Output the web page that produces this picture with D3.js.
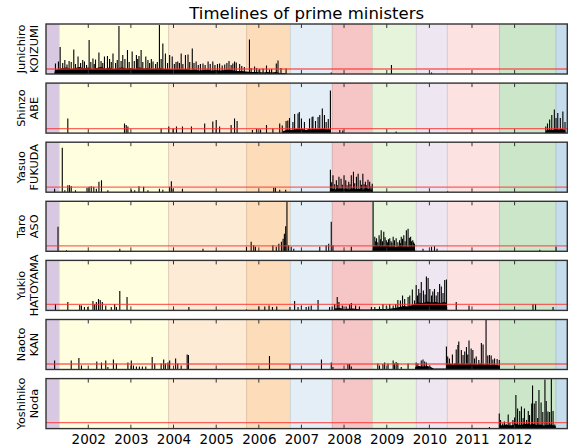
<!DOCTYPE html>
<html><head><meta charset="utf-8">
<script src="https://cdn.jsdelivr.net/npm/d3@7"></script>
<style>
html,body{margin:0;padding:0;background:#fff;}
svg{display:block;font-family:"DejaVu Sans",sans-serif;}
</style></head>
<body><svg id="chart" width="569" height="446"></svg>
<script>
// ---------------- DATA ----------------
const chartTitle = "Timelines of prime ministers";
const firstNames = ["Junichiro","Shinzo","Yasuo","Taro","Yukio","Naoto","Yoshihiko"];
const lastNames  = ["KOIZUMI","ABE","FUKUDA","ASO","HATOYAMA","KAN","Noda"];
const tickYears = [2002,2003,2004,2005,2006,2007,2008,2009,2010,2011,2012];
const timeStart = 2001.008, timeEnd = 2013.234;
const periodNames  = ["Mori","Koizumi I","Koizumi II","Koizumi III","Abe","Fukuda","Aso","Hatoyama","Kan","Noda","Abe II"];
const periodStarts = [2001.008,2001.321,2003.885,2005.714,2006.739,2007.724,2008.662,2009.694,2010.421,2011.647,2012.968];
// red reference level per panel (share of panel max, %)
const thresholds = [10, 9, 10, 11, 12, 11, 12];

// daily-count spikes per minister: [decimal year, value (% of panel max)]
const koizumiSpikes = [[2001.23,21],[2001.30,25],[2001.34,54],[2001.40,22],[2001.45,28],[2001.50,19],[2001.55,26],[2001.60,24],[2001.66,49],[2001.70,20],[2001.76,35],[2001.82,22],[2001.87,28],[2001.91,25],[2001.96,18],[2002.02,68],[2002.06,24],[2002.11,31],[2002.14,20],[2002.17,29],[2002.25,43],[2002.30,26],[2002.34,22],[2002.38,35],[2002.45,36],[2002.50,30],[2002.54,24],[2002.58,41],[2002.64,22],[2002.68,28],[2002.72,96],[2002.77,26],[2002.81,38],[2002.86,30],[2002.92,48],[2002.96,24],[2003.03,45],[2003.08,26],[2003.13,38],[2003.16,30],[2003.19,36],[2003.24,48],[2003.28,24],[2003.35,35],[2003.40,28],[2003.44,22],[2003.48,30],[2003.52,25],[2003.58,20],[2003.62,24],[2003.67,98],[2003.71,30],[2003.75,61],[2003.81,41],[2003.86,22],[2003.91,38],[2003.97,35],[2004.02,20],[2004.06,24],[2004.10,25],[2004.14,22],[2004.18,41],[2004.22,20],[2004.28,38],[2004.34,39],[2004.38,24],[2004.44,51],[2004.48,22],[2004.53,25],[2004.58,18],[2004.63,20],[2004.69,21],[2004.74,18],[2004.81,25],[2004.86,20],[2004.92,25],[2004.97,18],[2005.03,20],[2005.08,21],[2005.14,17],[2005.20,19],[2005.25,22],[2005.30,26],[2005.35,18],[2005.39,21],[2005.43,25],[2005.47,23],[2005.55,20],[2005.60,16],[2005.66,14],[2005.78,69],[2005.82,12],[2005.90,15],[2005.95,12],[2006.02,10],[2006.10,11],[2006.18,17],[2006.25,9],[2006.30,10],[2006.41,21],[2006.45,27],[2006.52,12],[2006.64,11],[2007.70,3],[2009.11,18],[2010.05,3]];
const koizumiFloor = [[2001.20,0],[2001.22,8],[2001.30,10],[2001.40,12],[2001.50,13],[2001.60,10],[2001.70,12],[2001.80,14],[2001.90,11],[2002.00,13],[2002.10,10],[2002.20,12],[2002.30,14],[2002.40,11],[2002.50,13],[2002.60,10],[2002.70,12],[2002.80,13],[2002.90,11],[2003.00,12],[2003.10,10],[2003.20,13],[2003.30,11],[2003.40,12],[2003.50,10],[2003.60,11],[2003.70,12],[2003.80,10],[2003.90,10],[2004.00,9],[2004.10,10],[2004.20,9],[2004.30,10],[2004.40,8],[2004.50,9],[2004.60,7],[2004.70,8],[2004.80,9],[2004.90,7],[2005.00,8],[2005.10,7],[2005.20,8],[2005.30,9],[2005.40,7],[2005.50,6],[2005.60,6],[2005.70,5],[2005.80,4],[2005.90,4],[2006.00,4],[2006.10,3],[2006.20,4],[2006.30,3],[2006.40,4],[2006.50,2],[2006.62,2],[2006.66,0]];

const abeSpikes = [[2001.52,29],[2002.85,19],[2002.89,16],[2002.93,13],[2003.71,9],[2003.89,13],[2003.99,9],[2004.07,13],[2004.21,13],[2004.42,13],[2004.73,19],[2004.92,23],[2005.00,26],[2005.08,13],[2005.35,16],[2005.43,29],[2005.49,24],[2005.85,6],[2005.95,8],[2006.04,7],[2006.18,16],[2006.33,9],[2006.49,19],[2006.55,15],[2006.64,24],[2006.68,25],[2006.72,30],[2006.80,22],[2006.84,38],[2006.92,39],[2006.95,42],[2007.00,29],[2007.07,22],[2007.19,29],[2007.25,32],[2007.27,33],[2007.33,24],[2007.39,32],[2007.43,36],[2007.49,49],[2007.54,36],[2007.58,22],[2007.63,28],[2007.68,85],[2007.90,6],[2007.97,5],[2009.22,3],[2012.73,13],[2012.77,19],[2012.82,27],[2012.87,36],[2012.93,47],[2012.97,30],[2013.01,40],[2013.07,30],[2013.13,43],[2013.18,22]];
const abeFloor = [[2006.55,0],[2006.57,4],[2006.65,6],[2006.72,7],[2006.80,6],[2006.88,8],[2006.95,7],[2007.02,8],[2007.10,6],[2007.18,8],[2007.25,7],[2007.33,8],[2007.42,7],[2007.50,9],[2007.58,7],[2007.66,8],[2007.69,0],[2012.72,0],[2012.74,5],[2012.80,7],[2012.88,6],[2012.95,8],[2013.02,7],[2013.10,8],[2013.18,6],[2013.20,0]];

const fukudaSpikes = [[2001.21,7],[2001.39,89],[2001.45,4],[2001.52,14],[2001.56,14],[2001.60,12],[2001.70,4],[2001.97,9],[2002.02,11],[2002.07,12],[2002.13,11],[2002.19,7],[2002.25,21],[2002.31,24],[2002.46,4],[2003.01,5],[2003.09,4],[2003.19,12],[2003.30,11],[2003.40,4],[2003.67,7],[2003.75,5],[2003.91,11],[2003.95,22],[2003.99,7],[2004.21,7],[2006.35,9],[2006.39,9],[2006.49,5],[2006.63,5],[2007.68,45],[2007.71,20],[2007.74,34],[2007.78,16],[2007.82,24],[2007.85,14],[2007.88,31],[2007.93,27],[2007.96,15],[2008.00,34],[2008.04,24],[2008.07,14],[2008.11,21],[2008.14,16],[2008.17,34],[2008.22,41],[2008.25,18],[2008.29,31],[2008.33,37],[2008.38,24],[2008.41,15],[2008.44,37],[2008.47,16],[2008.50,21],[2008.53,14],[2008.56,25],[2008.60,21],[2008.63,12],[2008.66,17],[2010.43,2]];
const fukudaFloor = [[2007.66,0],[2007.68,6],[2007.75,7],[2007.82,5],[2007.90,8],[2007.98,6],[2008.05,7],[2008.12,5],[2008.20,8],[2008.28,6],[2008.36,7],[2008.44,5],[2008.52,8],[2008.60,6],[2008.66,5],[2008.68,0]];

const asoSpikes = [[2001.29,49],[2001.49,2],[2002.74,5],[2004.69,5],[2005.71,9],[2005.82,19],[2005.88,12],[2005.92,9],[2006.33,12],[2006.41,9],[2006.47,15],[2006.53,19],[2006.57,25],[2006.60,35],[2006.63,50],[2006.66,99],[2006.70,12],[2006.76,9],[2006.82,5],[2007.43,9],[2007.58,12],[2007.64,15],[2007.70,59],[2007.74,12],[2008.17,9],[2008.68,99],[2008.72,29],[2008.74,20],[2008.76,26],[2008.79,18],[2008.82,32],[2008.85,24],[2008.87,42],[2008.90,20],[2008.93,39],[2008.96,28],[2008.99,22],[2009.02,18],[2009.04,24],[2009.07,26],[2009.10,20],[2009.12,17],[2009.15,29],[2009.18,22],[2009.22,26],[2009.26,18],[2009.30,22],[2009.32,16],[2009.34,29],[2009.37,25],[2009.40,32],[2009.43,20],[2009.46,42],[2009.50,45],[2009.53,27],[2009.56,29],[2009.58,20],[2009.61,22],[2009.63,18],[2009.65,15],[2009.85,5],[2010.05,9],[2010.12,10],[2010.18,5],[2012.59,3],[2012.97,9]];
const asoFloor = [[2008.67,0],[2008.68,11],[2008.75,9],[2008.83,12],[2008.90,10],[2008.98,11],[2009.06,9],[2009.14,10],[2009.22,8],[2009.30,11],[2009.38,9],[2009.46,10],[2009.54,8],[2009.62,9],[2009.66,6],[2009.67,0]];

const hatoyamaSpikes = [[2001.23,13],[2001.52,17],[2001.80,11],[2001.84,10],[2001.91,7],[2001.99,7],[2002.11,19],[2002.15,13],[2002.19,17],[2002.24,23],[2002.28,21],[2002.33,17],[2002.41,10],[2002.54,7],[2002.62,13],[2002.66,7],[2002.74,39],[2002.91,27],[2004.36,7],[2005.71,2],[2006.00,8],[2006.14,8],[2006.24,10],[2006.32,7],[2006.42,8],[2006.73,7],[2006.84,19],[2006.92,7],[2007.00,10],[2007.11,7],[2007.17,8],[2007.23,10],[2007.39,21],[2007.66,7],[2007.72,8],[2007.78,13],[2007.84,27],[2007.88,17],[2007.96,10],[2008.05,8],[2008.13,13],[2008.17,15],[2008.27,10],[2008.36,8],[2008.64,7],[2008.72,7],[2008.83,8],[2008.91,13],[2008.99,10],[2009.07,13],[2009.15,10],[2009.21,13],[2009.26,21],[2009.32,20],[2009.37,30],[2009.42,23],[2009.50,27],[2009.54,30],[2009.60,42],[2009.65,20],[2009.69,51],[2009.72,30],[2009.75,43],[2009.78,35],[2009.81,57],[2009.86,40],[2009.90,32],[2009.93,68],[2009.97,65],[2010.01,43],[2010.05,30],[2010.08,38],[2010.12,43],[2010.16,30],[2010.20,37],[2010.24,53],[2010.28,48],[2010.32,35],[2010.36,61],[2010.40,62],[2010.63,17],[2010.93,10],[2011.41,1],[2012.43,13],[2012.49,13],[2012.90,7]];
const hatoyamaFloor = [[2007.76,0],[2007.77,4],[2007.90,5],[2008.00,3],[2008.20,4],[2008.40,2],[2008.60,2],[2008.80,3],[2009.00,3],[2009.20,5],[2009.30,7],[2009.40,9],[2009.50,8],[2009.60,11],[2009.68,14],[2009.75,16],[2009.85,15],[2009.95,18],[2010.05,16],[2010.15,17],[2010.25,15],[2010.35,17],[2010.41,15],[2010.42,0]];

const kanSpikes = [[2001.21,18],[2001.60,18],[2001.78,23],[2001.84,8],[2002.20,16],[2002.31,14],[2002.41,18],[2002.46,5],[2002.59,20],[2002.66,12],[2002.93,14],[2003.01,18],[2003.06,8],[2003.13,6],[2003.20,6],[2003.27,6],[2003.35,6],[2003.50,25],[2003.56,12],[2003.71,12],[2003.77,20],[2003.81,12],[2003.87,14],[2003.91,18],[2004.05,22],[2004.10,12],[2004.18,8],[2004.32,30],[2004.35,29],[2006.25,27],[2006.73,11],[2007.47,20],[2007.70,14],[2007.74,5],[2008.09,11],[2008.13,11],[2008.17,6],[2008.79,12],[2008.83,8],[2008.91,11],[2008.95,14],[2009.03,12],[2009.15,18],[2009.18,12],[2009.22,15],[2009.26,13],[2009.34,5],[2009.50,12],[2009.69,14],[2009.73,12],[2009.81,18],[2009.85,20],[2009.89,16],[2009.93,14],[2010.01,8],[2010.40,46],[2010.43,26],[2010.47,22],[2010.54,30],[2010.59,12],[2010.63,40],[2010.67,49],[2010.69,56],[2010.75,39],[2010.79,29],[2010.83,36],[2010.87,45],[2010.90,30],[2010.93,58],[2010.98,42],[2011.02,39],[2011.06,22],[2011.10,26],[2011.16,19],[2011.22,53],[2011.26,50],[2011.33,100],[2011.37,28],[2011.41,29],[2011.45,28],[2011.49,20],[2011.53,22],[2011.59,21],[2011.64,19]];
const kanFloor = [[2009.66,0],[2009.67,5],[2009.75,7],[2009.85,6],[2009.95,7],[2010.03,5],[2010.10,2],[2010.30,2],[2010.39,2],[2010.40,10],[2010.48,12],[2010.56,10],[2010.64,13],[2010.72,11],[2010.80,12],[2010.88,10],[2010.96,12],[2011.04,11],[2011.12,10],[2011.20,12],[2011.28,10],[2011.36,11],[2011.44,9],[2011.52,10],[2011.60,9],[2011.65,7],[2011.66,0]];

const nodaSpikes = [[2011.41,3],[2011.64,30],[2011.67,17],[2011.72,10],[2011.76,14],[2011.81,8],[2011.85,28],[2011.89,11],[2011.96,17],[2012.00,22],[2012.03,67],[2012.07,40],[2012.12,35],[2012.16,44],[2012.20,21],[2012.23,40],[2012.28,17],[2012.32,35],[2012.35,27],[2012.40,50],[2012.42,86],[2012.46,50],[2012.50,55],[2012.54,21],[2012.57,77],[2012.62,52],[2012.66,33],[2012.71,98],[2012.74,55],[2012.78,34],[2012.82,33],[2012.86,99],[2012.90,35],[2012.94,8]];
const nodaFloor = [[2011.64,0],[2011.65,7],[2011.72,6],[2011.80,8],[2011.88,6],[2011.96,7],[2012.04,9],[2012.12,7],[2012.20,8],[2012.28,10],[2012.36,8],[2012.44,9],[2012.52,7],[2012.60,8],[2012.68,6],[2012.76,7],[2012.84,8],[2012.92,6],[2012.96,5],[2012.97,0]];

const allSpikes = [koizumiSpikes, abeSpikes, fukudaSpikes, asoSpikes, hatoyamaSpikes, kanSpikes, nodaSpikes];
const allFloors = [koizumiFloor, abeFloor, fukudaFloor, asoFloor, hatoyamaFloor, kanFloor, nodaFloor];

// ---------------- STYLE / LAYOUT ----------------
const bandColors = ["#d9c8e2","#ffffe0","#fdebd6","#fddcba","#e4eef6","#f6c5c5","#e7f4dc","#eee7f2","#fde2e2","#cce6ca","#c5ddec"];
const L = 46, R = 567.3, panelTop0 = 24, panelStep = 59.1, panelH = 50;

function dec(y){
  const yr = Math.floor(y);
  const a = Date.UTC(yr,0,1), b = Date.UTC(yr+1,0,1);
  return new Date(a + (y-yr)*(b-a));
}

const svg = d3.select("#chart");
const x = d3.scaleUtc().domain([dec(timeStart), dec(timeEnd)]).range([L, R]);

svg.append("text").attr("x", (L+R)/2).attr("y", 19).attr("text-anchor","middle")
  .attr("font-size", 16.5).attr("fill","#000").text(chartTitle);

const bands = periodStarts.map((s,i)=>({s, e: i<periodStarts.length-1 ? periodStarts[i+1] : timeEnd, c: bandColors[i], name: periodNames[i]}));

firstNames.forEach((fn, i) => {
  const top = panelTop0 + i*panelStep, bot = top + panelH;
  const y = d3.scaleLinear().domain([0,100]).range([bot, top]);
  const g = svg.append("g");
  const clipId = "clip"+i;
  g.append("clipPath").attr("id", clipId).append("rect")
    .attr("x", L).attr("y", top).attr("width", R-L).attr("height", panelH);
  const inner = g.append("g").attr("clip-path", `url(#${clipId})`);

  inner.selectAll("rect.band").data(bands).join("rect").attr("class","band")
    .attr("x", d=>x(dec(d.s))).attr("width", d=>x(dec(d.e))-x(dec(d.s)))
    .attr("y", top).attr("height", panelH).attr("fill", d=>d.c);
  inner.selectAll("line.edge").data(bands.slice(1)).join("line").attr("class","edge")
    .attr("x1", d=>x(dec(d.s))).attr("x2", d=>x(dec(d.s)))
    .attr("y1", top).attr("y2", bot)
    .attr("stroke", d=>d3.color(d.c).darker(0.35)).attr("stroke-width", 1);

  const area = d3.area().x(d=>x(dec(d[0]))).y0(y(0)).y1(d=>y(d[1]));
  inner.append("path").datum(allFloors[i]).attr("d", area).attr("fill","#000");

  inner.selectAll("line.spike").data(allSpikes[i]).join("line").attr("class","spike")
    .attr("x1", d=>x(dec(d[0]))).attr("x2", d=>x(dec(d[0])))
    .attr("y1", y(0)).attr("y2", d=>y(d[1]))
    .attr("stroke","#000").attr("stroke-width", 1.1);

  inner.append("line").attr("x1", L).attr("x2", R)
    .attr("y1", y(thresholds[i])).attr("y2", y(thresholds[i]))
    .attr("stroke","#ff3030").attr("stroke-opacity",0.75).attr("stroke-width",1.3);

  // ticks inward top & bottom
  tickYears.forEach(ty => {
    const tx = x(dec(ty));
    g.append("line").attr("x1",tx).attr("x2",tx).attr("y1",top).attr("y2",top+4).attr("stroke","#333").attr("stroke-width",1);
    g.append("line").attr("x1",tx).attr("x2",tx).attr("y1",bot).attr("y2",bot-4).attr("stroke","#333").attr("stroke-width",1);
  });

  g.append("rect").attr("x", L).attr("y", top).attr("width", R-L).attr("height", panelH)
    .attr("fill","none").attr("stroke","#333").attr("stroke-width",1.4);

  const cy = top + panelH/2;
  g.append("text").attr("transform", `translate(25,${cy}) rotate(-90)`)
    .attr("text-anchor","middle").attr("font-size",11.3).text(fn);
  g.append("text").attr("transform", `translate(37.5,${cy}) rotate(-90)`)
    .attr("text-anchor","middle").attr("font-size",11.3).text(lastNames[i]);

  if (i === firstNames.length-1) {
    const xAxis = d3.axisBottom(x).tickValues(tickYears.map(dec)).tickFormat(d3.utcFormat("%Y")).tickSize(0).tickPadding(0);
    const ax = svg.append("g").attr("transform", `translate(0,${bot})`).call(xAxis);
    ax.select(".domain").remove();
    ax.selectAll("text").attr("font-size", 13.5).attr("font-family","DejaVu Sans, sans-serif")
      .attr("fill","#000").attr("dy", null).attr("y", 15.5);
  }
});
</script></body></html>
